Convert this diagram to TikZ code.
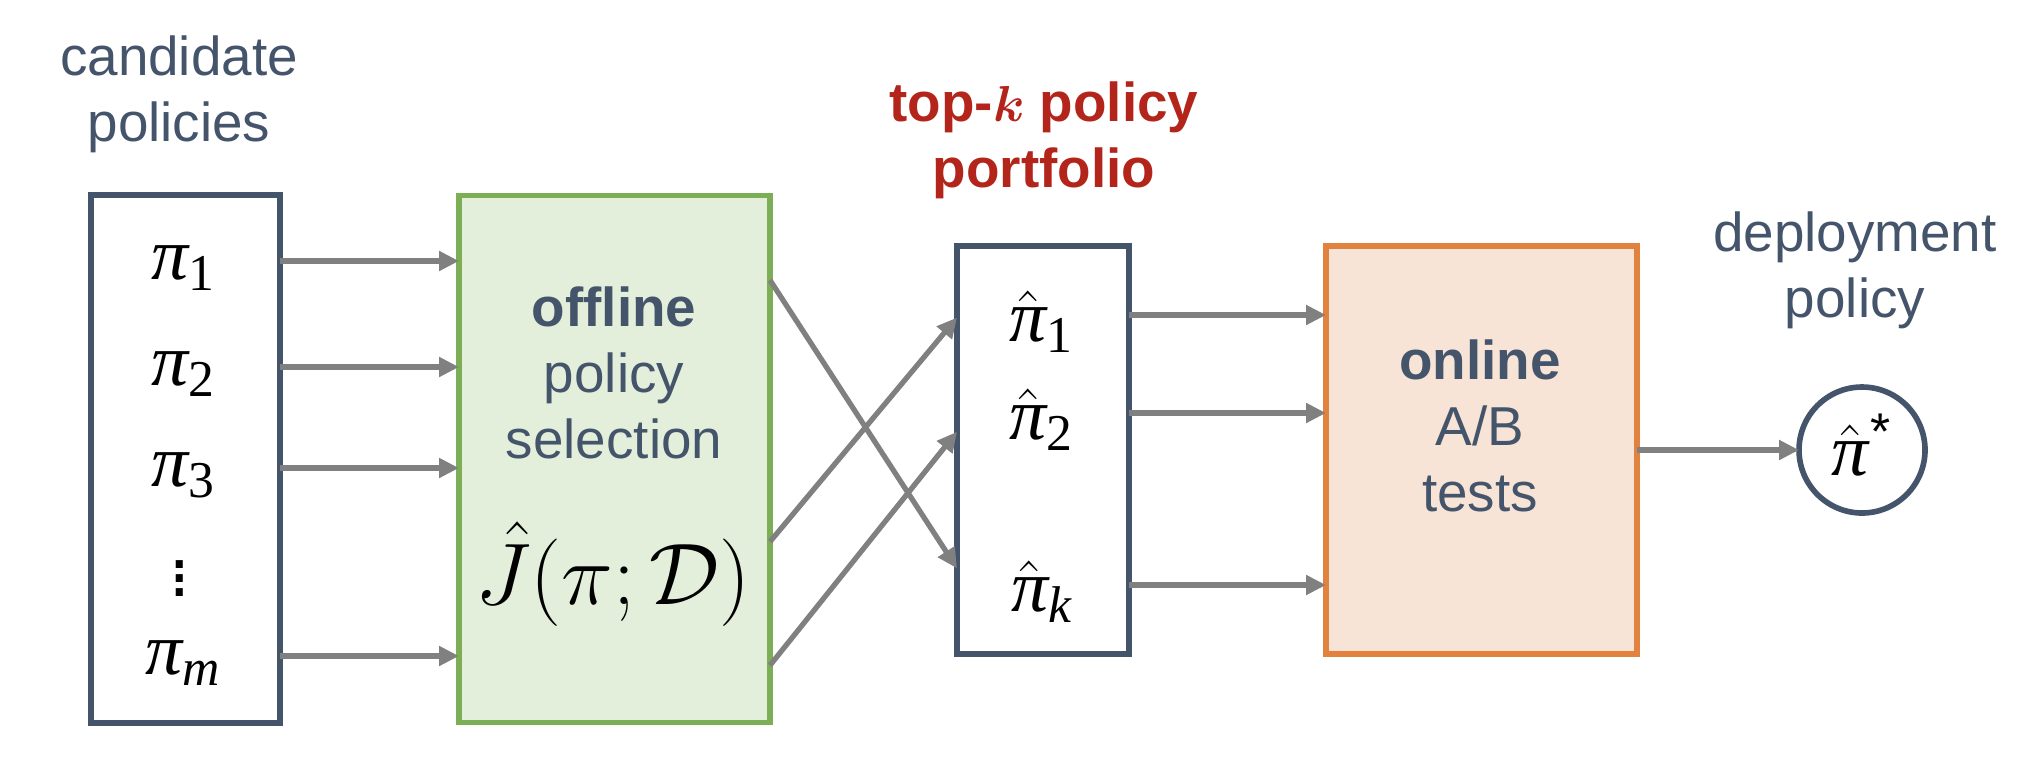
\documentclass[tikz,border=0pt]{standalone}
\usepackage{fontspec}
\setmainfont{Liberation Sans}
\newfontfamily\polfont{Liberation Serif}
\usetikzlibrary{arrows.meta,positioning,calc}

\definecolor{slate}{HTML}{44546A}
\definecolor{arrgray}{HTML}{808080}
\definecolor{offgreen}{HTML}{7CAE55}
\definecolor{offfill}{HTML}{E3EFDA}
\definecolor{onorange}{HTML}{E1833F}
\definecolor{onfill}{HTML}{F7E4D6}
\definecolor{topred}{HTML}{B3241A}

% policy symbols, set as in the slide
\newcommand{\pol}[1]{{\polfont\itshape π}\textsubscript{\polfont #1}}
\newcommand{\hpol}[1]{$\hat{\smash{\hbox{\polfont\itshape π}}}$\textsubscript{\polfont #1}}

\begin{document}
\begin{tikzpicture}[
  frame/.style={draw=slate, line width=1.6pt, fill=white, inner sep=0pt, outer sep=0pt},
  stage/.style={line width=1.6pt, inner sep=0pt, outer sep=0pt, minimum width=3.11cm},
  txt/.style={align=center, text=slate, font=\fontsize{15.6}{18.8}\selectfont},
  item/.style={font=\fontsize{21}{24}\selectfont, inner sep=0pt},
  arr/.style={-{Triangle[length=0.2cm, width=0.19cm]}, draw=arrgray, line width=1.5pt}
]
\useasboundingbox (0,0) rectangle (20.42,-7.73);

\node[frame, minimum width=1.89cm, minimum height=5.28cm] (cand) at (1.855,-4.59) {};
\node[stage, draw=offgreen, fill=offfill, minimum height=5.27cm, right=1.79cm of cand] (offsel) {};
\node[frame, minimum width=1.72cm, minimum height=4.08cm] (port) at (10.43,-4.50) {};
\node[stage, draw=onorange, fill=onfill, minimum height=4.08cm, right=1.97cm of port] (online) {};
\node[frame, circle, item, minimum size=1.26cm, right=1.62cm of online] (best) {\hpol{}\textsuperscript{*}};

\node[txt] (candlbl) at (1.79,-0.94) {candidate\\policies};
\node[txt, text=topred, font=\fontsize{15.6}{18.8}\selectfont\bfseries] (topk) at (10.44,-1.40) {top-{\boldmath$k$} policy\\portfolio};
\node[txt] (deploy) at (18.55,-2.70) {deployment\\policy};

\node[txt] (offtxt) at (6.14,-3.73) {\textbf{offline}\\policy\\selection};
\node[item, font=\fontsize{24}{28}\selectfont] (jhat) at (6.13,-5.74) {$\hat J(\pi;\mathcal D)$};
\node[txt] (ontxt) at (14.80,-4.255) {\textbf{online}\\A/B\\tests};

% candidates
\node[item] (p1) at (1.84,-2.68) {\pol{1}};
\node[item] (p2) at (1.84,-3.74) {\pol{2}};
\node[item] (p3) at (1.84,-4.75) {\pol{3}};
\node[item] (pdots) at (1.80,-5.68) {$\vdots$};
\node[item] (pm) at (1.84,-6.63) {\pol{\itshape m}};

% portfolio
\node[item] (h1) at (10.42,-3.22) {\hpol{1}};
\node[item] (h2) at (10.42,-4.20) {\hpol{2}};
\node[item] (hk) at (10.42,-5.92) {\hpol{\itshape k}};

\foreach \p in {p1,p2,p3,pm}
  \draw[arr] ($(cand.east |- \p)+(0,0.07)$) -- ($(offsel.west |- \p)+(0,0.07)$);

\draw[arr] (offsel.49.5) -- (port.234.4);
\draw[arr] (offsel.-28.4) -- (port.123.9);
\draw[arr] (offsel.-53.2) -- (port.168.8);

\foreach \h in {h1,h2,hk}
  \draw[arr] ($(port.east |- \h)+(0,0.07)$) -- ($(online.west |- \h)+(0,0.07)$);

\draw[arr] (online.east) -- (best.west);

\end{tikzpicture}
\end{document}
